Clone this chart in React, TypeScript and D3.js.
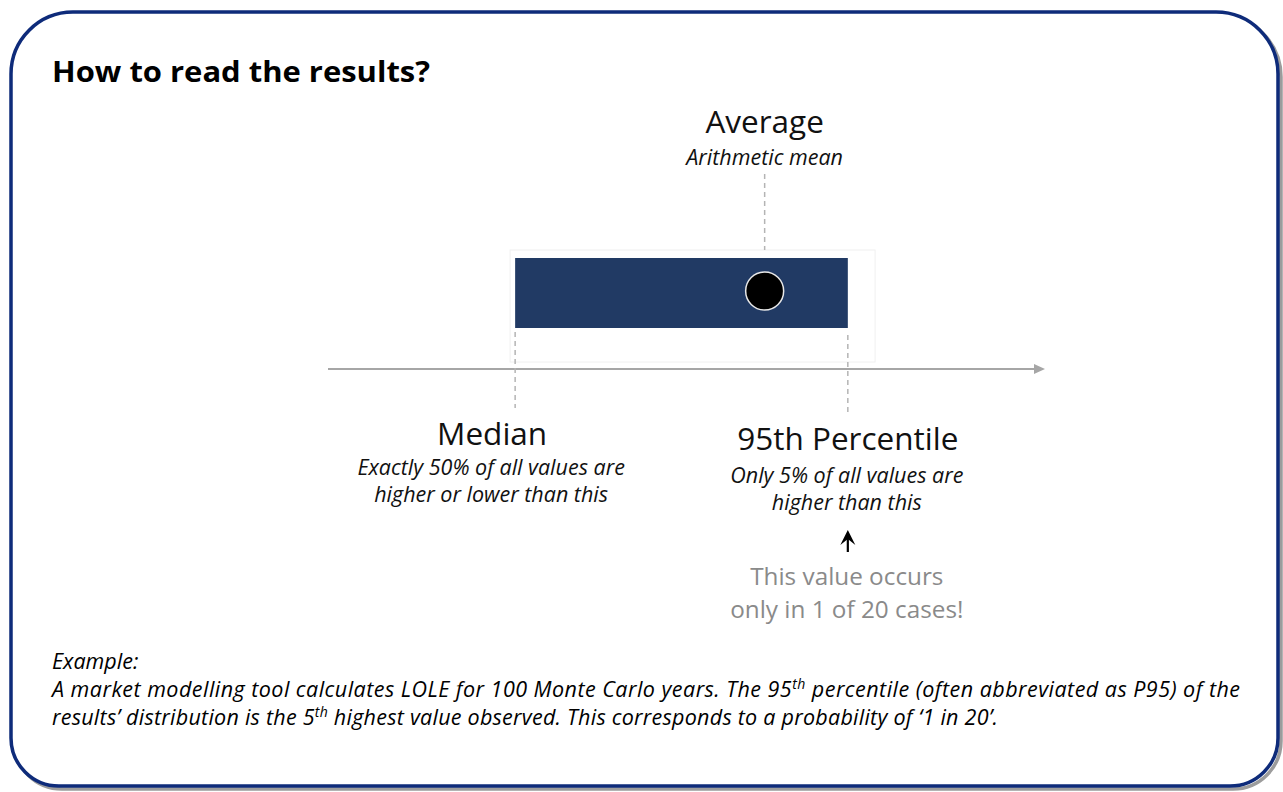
import React from "react";
import * as d3 from "d3";

// ---- data ----
const markerNames = ["Median", "Average", "95th Percentile"];
const markerValues = [26.1, 60.9, 72.5]; // positions on a 0..100 value axis
const markerSubtitles = [
  ["Exactly 50% of all values are", "higher or lower than this"],
  ["Arithmetic mean"],
  ["Only 5% of all values are", "higher than this"],
];
const noteLines = ["This value occurs", "only in 1 of 20 cases!"];
const titleText = "How to read the results?";

const W = 1283;
const H = 792;
const FONT = "'Open Sans', sans-serif";
const NAVY = "#0e2b7a";

function framePath(x0: number, y0: number, x1: number, y1: number, rt: number, rb: number) {
  const p = d3.path();
  p.moveTo(x0 + rt, y0);
  p.lineTo(x1 - rt, y0);
  p.arcTo(x1, y0, x1, y0 + rt, rt);
  p.lineTo(x1, y1 - rb);
  p.arcTo(x1, y1, x1 - rb, y1, rb);
  p.lineTo(x0 + rb, y1);
  p.arcTo(x0, y1, x0, y1 - rb, rb);
  p.lineTo(x0, y0 + rt);
  p.arcTo(x0, y0, x0 + rt, y0, rt);
  p.closePath();
  return p.toString();
}

export default function App() {
  const x = d3.scaleLinear().domain([0, 100]).range([328, 1045]);
  const [medV, avgV, p95V] = markerValues;
  const xm = x(medV);
  const xa = x(avgV);
  const xp = x(p95V);
  const axisY = 369;
  const barTop = 258;
  const barBot = 328;
  const frame = framePath(11, 12, 1278, 786, 62, 48);

  return (
    <svg
      width={W}
      height={H}
      style={{ position: "absolute", left: 0, top: 0, background: "#fff", fontVariantLigatures: "none" }}
      fontFamily={FONT}
    >
      {/* frame with shadow */}
      <path d={frame} transform="translate(3,3)" fill="none" stroke="#9c9c9c" strokeWidth={3.5} />
      <path d={frame} fill="#fff" stroke={NAVY} strokeWidth={3.5} />

      <text x={52} y={82} fontSize={28} fontWeight={700} fill="#000" textLength={378} lengthAdjust="spacingAndGlyphs">
        {titleText}
      </text>

      {/* faint chart area box */}
      <rect x={x(25.4)} y={250} width={x(76.3) - x(25.4)} height={112} fill="none" stroke="#f0f0f0" />

      {/* bar from median to p95 */}
      <rect x={xm} y={barTop} width={xp - xm} height={barBot - barTop} fill="#213a64" />

      {/* axis */}
      <line x1={x(0)} x2={x(100) - 10} y1={axisY} y2={axisY} stroke="#a6a6a6" strokeWidth={2} />
      <path
        d={`M${x(100)},${axisY} L${x(100) - 11},${axisY - 5} L${x(100) - 11},${axisY + 5} Z`}
        fill="#a6a6a6"
      />

      {/* dashed guides */}
      <g stroke="#b4b4b4" strokeWidth={1.5} strokeDasharray="5,4">
        <line x1={xa} x2={xa} y1={174} y2={250} />
        <line x1={xm} x2={xm} y1={332} y2={408} />
        <line x1={xp} x2={xp} y1={335} y2={412} />
      </g>

      {/* mean dot */}
      <circle cx={xa} cy={291} r={19} fill="#000" stroke="#e8e8e8" strokeWidth={1.5} />

      {/* labels */}
      <g textAnchor="middle" fill="#111">
        <text x={xa} y={133} fontSize={31.5}>{markerNames[1]}</text>
        <text x={xa} y={165} fontSize={21.5} fontStyle="italic">{markerSubtitles[1][0]}</text>

        <text x={xm - 23} y={445} fontSize={31.5}>{markerNames[0]}</text>
        {markerSubtitles[0].map((t, i) => (
          <text key={t} x={xm - 24} y={475 + i * 27} fontSize={21.5} fontStyle="italic">{t}</text>
        ))}

        <text x={xp} y={450} fontSize={31.5}>{markerNames[2]}</text>
        {markerSubtitles[2].map((t, i) => (
          <text key={t} x={xp - 1} y={483 + i * 27} fontSize={21.5} fontStyle="italic">{t}</text>
        ))}

        {noteLines.map((t, i) => (
          <text key={t} x={xp - 1} y={585 + i * 33} fontSize={24.3} fill="#8a8a8a">{t}</text>
        ))}
      </g>

      {/* small arrow */}
      <line x1={xp} x2={xp} y1={552} y2={538} stroke="#000" strokeWidth={2.2} />
      <path d={`M${xp - 7.5},${545} L${xp},${530} L${xp + 7.5},${545} L${xp},${539} Z`} fill="#000" />

      {/* example text */}
      <g fontSize={21.5} fontStyle="italic" fill="#000">
        <text x={52} y={669}>Example:</text>
        <text x={52} y={697} textLength={1188} lengthAdjust="spacing">
          A market modelling tool calculates LOLE for 100 Monte Carlo years. The 95
          <tspan fontSize={14} dy={-8}>th</tspan>
          <tspan dy={8}> percentile (often abbreviated as P95) of the</tspan>
        </text>
        <text x={52} y={725} textLength={946} lengthAdjust="spacing">
          results’ distribution is the 5
          <tspan fontSize={14} dy={-8}>th</tspan>
          <tspan dy={8}> highest value observed. This corresponds to a probability of ‘1 in 20’.</tspan>
        </text>
      </g>
    </svg>
  );
}
